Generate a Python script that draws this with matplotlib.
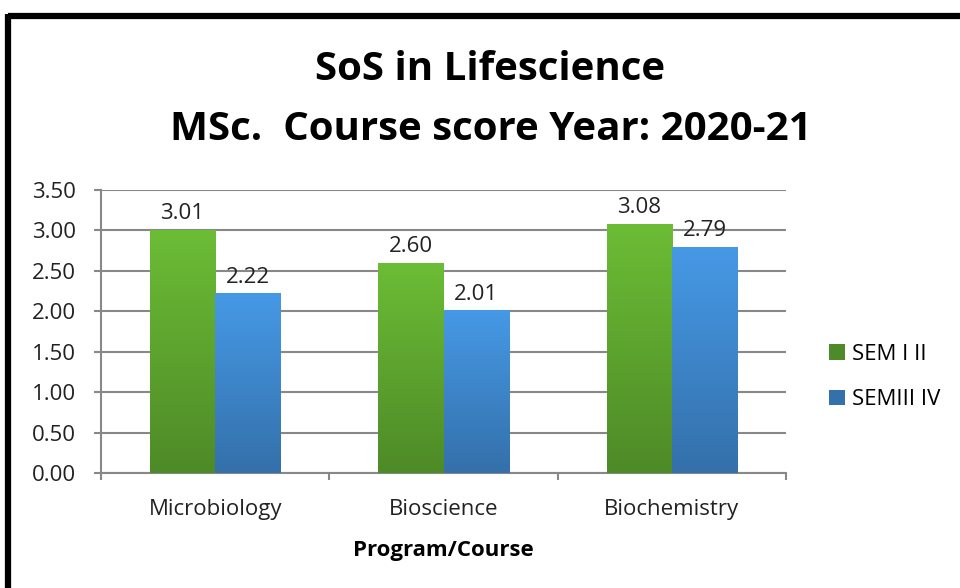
import numpy as np
import matplotlib
matplotlib.use('Agg')
import matplotlib.pyplot as plt
from matplotlib.lines import Line2D
from matplotlib.colors import LinearSegmentedColormap
from matplotlib.patches import Patch

# data
courses = ['Microbiology', 'Bioscience', 'Biochemistry']
sem_1_2 = [3.01, 2.60, 3.08]
sem_3_4 = [2.22, 2.01, 2.79]
series_names = ['SEM I II', 'SEMIII IV']
yticks = [0.0, 0.5, 1.0, 1.5, 2.0, 2.5, 3.0, 3.5]

plt.rcParams['font.family'] = ['Open Sans', 'DejaVu Sans']

fig = plt.figure(figsize=(9.6, 5.88), dpi=100)
ax = fig.add_axes([101/960, 1 - 473/588, (786-101)/960, (473-190)/588])

green_top, green_bot = '#6cbd36', '#4e8a27'
blue_top, blue_bot = '#4699e6', '#3470aa'

x = np.arange(len(courses))
w = 0.2857

def grad_bars(xs, vals, top, bot):
    bars = ax.bar(xs, vals, w, color=bot, zorder=3)
    cmap = LinearSegmentedColormap.from_list('g', [bot, top])
    g = np.linspace(0, 1, 256).reshape(-1, 1)
    for b in bars:
        bx, by = b.get_x(), b.get_height()
        im = ax.imshow(g, cmap=cmap, aspect='auto', origin='lower',
                       extent=[bx, bx + w, 0, by], zorder=3.5)
        im.set_clip_path(b)
    return bars

b1 = grad_bars(x - w/2, sem_1_2, green_top, green_bot)
b2 = grad_bars(x + w/2, sem_3_4, blue_top, blue_bot)

for bars, vals in ((b1, sem_1_2), (b2, sem_3_4)):
    for b, v in zip(bars, vals):
        ax.text(b.get_x() + w/2, v + 0.135, '%.2f' % v, ha='center', va='baseline',
                fontsize=16, color='#222222', zorder=2)

ax.set_xlim(-0.5, 2.5)
ax.set_ylim(0, 3.5)
ax.set_yticks(yticks)
ax.set_yticklabels(['%.2f' % t for t in yticks], fontsize=16, color='#222222')
ax.set_xticks(x)
ax.set_xticklabels(courses, fontsize=16, color='#222222')
ax.set_xticks([-0.5, 0.5, 1.5, 2.5], minor=True)
ax.tick_params(axis='x', which='major', length=0, pad=19)
ax.tick_params(axis='x', which='minor', length=5, width=1.5, color='#888888')
ax.tick_params(axis='y', length=5, width=1.5, color='#888888', pad=13)
ax.yaxis.grid(True, color='#888888', linewidth=1.5, zorder=0)
ax.set_axisbelow(True)
for s in ('top', 'right'):
    ax.spines[s].set_visible(False)
for s in ('left', 'bottom'):
    ax.spines[s].set_color('#888888')
    ax.spines[s].set_linewidth(1.5)

ax.set_xlabel('Program/Course', fontsize=16, fontweight='bold', labelpad=14)

fig.text(490/960, 1 - 69/588, 'SoS in Lifescience', ha='center', va='center',
         fontsize=29, fontweight='bold')
fig.text(491/960, 1 - 129/588, 'MSc.  Course score Year: 2020-21', ha='center',
         va='center', fontsize=29, fontweight='bold')

handles = [Patch(facecolor=green_bot), Patch(facecolor=blue_bot)]
fig.legend(handles, series_names, loc='center left', bbox_to_anchor=(818/960, 1 - 377/588),
           frameon=False, fontsize=16, handlelength=0.7, handleheight=0.7,
           handletextpad=0.35, labelspacing=1.1, borderpad=0)

# black frame of the original picture
fig.add_artist(Line2D([8/960, 1], [1 - 16/588, 1 - 16/588], color='black', lw=4.5,
                      solid_capstyle='butt'))
fig.add_artist(Line2D([8/960, 8/960], [0, 1 - 14/588], color='black', lw=4.5,
                      solid_capstyle='butt'))

fig.savefig('out.png', dpi=100)
